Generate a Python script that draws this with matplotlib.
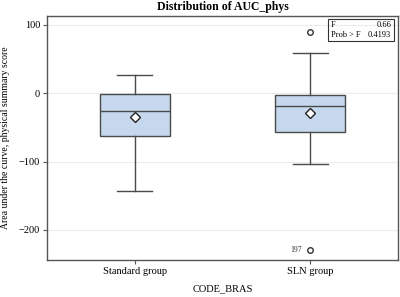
import matplotlib
matplotlib.use('Agg')
import matplotlib.pyplot as plt

# Valores
groups = ['Standard group', 'SLN group']
whisker_low = [-143, -104]
q1 = [-62, -57]
median = [-26, -19]
q3 = [-1, -3]
whisker_high = [26, 59]
means = [-35, -29]
outliers = [[], [90, -230]]
outlier_label = '197'
f_value = '0.66'
p_value = '0.4193'
yticks = [-200, -100, 0, 100]


def main():
    plt.rcParams['font.family'] = ['Liberation Serif', 'DejaVu Serif']

    fig = plt.figure(figsize=(4, 2.97), dpi=100)
    ax = fig.add_axes([0.1175, 0.1246, 0.8775, 0.8214])

    stats = []
    for i, g in enumerate(groups):
        stats.append({'label': g, 'whislo': whisker_low[i], 'q1': q1[i],
                      'med': median[i], 'q3': q3[i], 'whishi': whisker_high[i],
                      'mean': means[i], 'fliers': outliers[i]})

    edge = '#4a4a4a'
    ax.bxp(stats, positions=[1, 2], widths=0.4, patch_artist=True,
           showmeans=True, capwidths=0.2,
           boxprops=dict(facecolor='#c6d8ee', edgecolor=edge, linewidth=1),
           medianprops=dict(color=edge, linewidth=1),
           whiskerprops=dict(color=edge, linewidth=1),
           capprops=dict(color=edge, linewidth=1),
           meanprops=dict(marker='D', markerfacecolor='white',
                          markeredgecolor='#222222', markersize=5,
                          markeredgewidth=1),
           flierprops=dict(marker='o', markerfacecolor='white',
                           markeredgecolor='#333333', markersize=4,
                           markeredgewidth=1))

    # rótulo do outlier inferior
    ax.annotate(outlier_label, (2, min(outliers[1])), xytext=(-6, 0),
                textcoords='offset points', ha='right', va='center',
                fontsize=5.5, color='#333333')

    ax.set_xlim(0.5, 2.5)
    ax.set_ylim(-244, 113)
    ax.set_yticks(yticks)
    ax.yaxis.grid(True, color='#ececec', linewidth=0.8)
    ax.set_axisbelow(True)
    ax.tick_params(labelsize=7.5, length=3, color='#555555', pad=2)
    for s in ax.spines.values():
        s.set_color('#555555')
        s.set_linewidth(1)

    ax.set_title('Distribution of AUC_phys', fontsize=8.5, fontweight='bold', pad=4)
    ax.set_xlabel('CODE_BRAS', fontsize=7.5, labelpad=6)
    ax.set_ylabel('Area under the curve, physical summary score', fontsize=7,
                  labelpad=6)

    # caixa com a estatística F
    box_x0, box_x1 = 0.80, 0.989
    ax.add_patch(plt.Rectangle((box_x0, 0.898), box_x1 - box_x0, 0.09,
                               transform=ax.transAxes, fill=False,
                               edgecolor='#333333', linewidth=0.8))
    ax.text(box_x0 + 0.008, 0.964, 'F', transform=ax.transAxes, fontsize=6,
            va='center')
    ax.text(box_x1 - 0.008, 0.964, f_value, transform=ax.transAxes, fontsize=6,
            va='center', ha='right')
    ax.text(box_x0 + 0.008, 0.922, 'Prob > F', transform=ax.transAxes,
            fontsize=6, va='center')
    ax.text(box_x1 - 0.008, 0.922, p_value, transform=ax.transAxes, fontsize=6,
            va='center', ha='right')

    fig.savefig('out.png', dpi=100)


if __name__ == '__main__':
    main()
